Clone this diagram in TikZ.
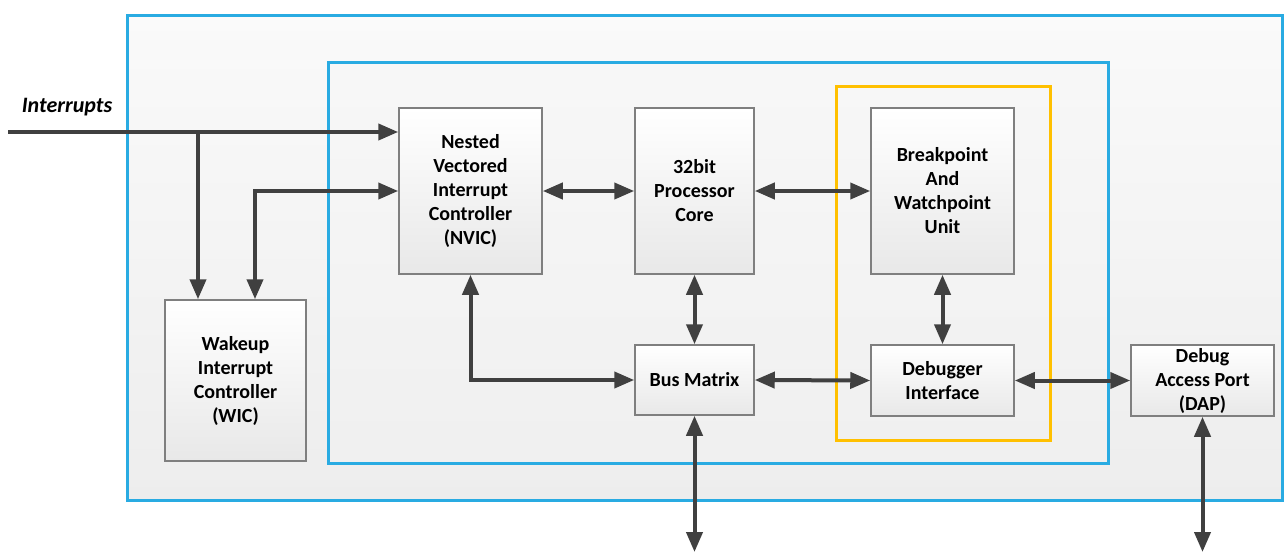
\documentclass[tikz,border=0pt]{standalone}
\usepackage{fontspec}
\setmainfont{Carlito}
\usetikzlibrary{arrows.meta}
\definecolor{linegray}{HTML}{404040}
\definecolor{boxgray}{HTML}{7F7F7F}
\definecolor{frameblue}{HTML}{29ABE2}
\definecolor{frameyellow}{HTML}{FFC000}
\tikzset{
    block/.style={draw=boxgray, line width=1.5pt, top color=white, bottom color=black!9,
        inner sep=0pt, align=center, font=\fontsize{20}{24}\selectfont\bfseries},
    sig/.style={draw=linegray, line width=4pt, -{Triangle[length=20pt,width=16pt]}},
    bisig/.style={sig, {Triangle[length=20pt,width=16pt]}-{Triangle[length=20pt,width=16pt]}},
}

\begin{document}
\begin{tikzpicture}[x=1pt,y=-1pt]
    \useasboundingbox (0,0) rectangle (1285,554);
    % frames
    \draw[frameblue, line width=3pt, top color=black!2, bottom color=black!7] (127,15) rectangle (1282,500);
    \draw[frameblue, line width=3pt, top color=black!3, bottom color=black!6] (328,62) rectangle (1108,463);
    \draw[frameyellow, line width=3pt] (836,86) rectangle (1050,440);
    % blocks
    \node[block, minimum width=143, minimum height=166] (nvic) at (470.5,191) {Nested\\Vectored\\Interrupt\\Controller\\(NVIC)};
    \node[block, minimum width=119, minimum height=166] (core) at (694.5,191) {32bit\\Processor\\Core};
    \node[block, minimum width=143, minimum height=166] (bwu) at (942.5,191) {Breakpoint\\And\\Watchpoint\\Unit};
    \node[block, minimum width=119, minimum height=70] (busm) at (694.5,380) {Bus Matrix};
    \node[block, minimum width=143, minimum height=71] (dbgif) at (942.5,380.5) {Debugger\\Interface};
    \node[block, minimum width=143, minimum height=71] (dap) at (1202.5,380.5) {Debug\\Access Port\\(DAP)};
    \node[block, minimum width=141, minimum height=161] (wic) at (235.5,380.5) {Wakeup\\Interrupt\\Controller\\(WIC)};
    \node[font=\fontsize{22}{26}\selectfont\bfseries\itshape] (intlbl) at (67,107) {Interrupts};
    % free ends
    \coordinate (intin) at (8,132);
    \coordinate (tap) at (198,132);
    \coordinate (wicin) at (255,0);
    \coordinate (busout) at (694.5,552);
    \coordinate (dapout) at (1204,552);
    % connections
    \draw[sig] (intin) -- (intin -| nvic.west);
    \draw[sig] (tap) -- (tap |- wic.north);
    \draw[bisig] (wicin |- wic.north) |- (nvic.west);
    \draw[bisig] (nvic.east) -- (core.west);
    \draw[bisig] (core.east) -- (bwu.west);
    \draw[bisig] (core.south) -- (busm.north);
    \draw[bisig] (nvic.south) |- (busm.west);
    \draw[bisig] (busm.east) -- (dbgif.west);
    \draw[bisig] (bwu.south) -- (dbgif.north);
    \draw[bisig] (dbgif.east) -- (dap.west);
    \draw[bisig] (busm.south) -- (busout);
    \draw[bisig] (dap.south |- dapout) -- (dap.south);
\end{tikzpicture}
\end{document}
